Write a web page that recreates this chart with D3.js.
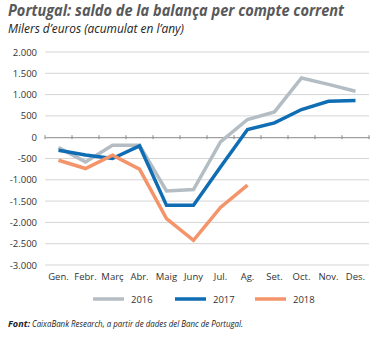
<!DOCTYPE html>
<html><head><meta charset="utf-8">
<script src="https://cdn.jsdelivr.net/npm/d3@7"></script>
<style>body{margin:0;background:#fff}svg{display:block}</style>
</head><body>
<svg id="c" width="380" height="338"></svg>
<script>
const months = ["Gen.","Febr.","Març","Abr.","Maig","Juny","Jul.","Ag.","Set.","Oct.","Nov.","Des."];
const yTicks = [2000,1500,1000,500,0,-500,-1000,-1500,-2000,-2500,-3000];
const s2016 = [-240,-580,-190,-190,-1260,-1230,-110,415,595,1390,1240,1080];
const s2017 = [-305,-420,-500,-205,-1600,-1600,-700,180,335,650,845,860];
const s2018 = [-540,-735,-420,-750,-1910,-2420,-1650,-1125];
const seriesNames = ["2016","2017","2018"];
const colors = ["#b4bdc3","#0f6db4","#f4946a"];

const svg = d3.select("#c");
const x = d3.scaleBand().domain(months).range([45,369]);
const y = d3.scaleLinear().domain([-3000,2000]).range([265,52]);
const fmt = v => d3.format(",")(v).replace(/,/g,".").replace("−","-");

svg.append("text").attr("x",8).attr("y",16).attr("font-family","Open Sans, sans-serif")
  .attr("font-weight","bold").attr("font-style","italic").attr("font-size",15.5).attr("fill","#58595b")
  .attr("textLength",336).attr("lengthAdjust","spacingAndGlyphs")
  .text("Portugal: saldo de la balança per compte corrent");
svg.append("text").attr("x",8).attr("y",33).attr("font-family","Open Sans, sans-serif")
  .attr("font-style","italic").attr("font-size",12).attr("fill","#222")
  .attr("textLength",176).attr("lengthAdjust","spacingAndGlyphs")
  .text("Milers d’euros (acumulat en l’any)");

// gridlines
svg.append("g").selectAll("line").data(yTicks.filter(d=>d!==0)).join("line")
  .attr("x1",45).attr("x2",369).attr("y1",d=>y(d)).attr("y2",d=>y(d))
  .attr("stroke","#d5d5d5").attr("stroke-width",1);

// y labels
svg.append("g").selectAll("text").data(yTicks).join("text")
  .attr("x",37).attr("y",d=>y(d)+3.5).attr("text-anchor","end")
  .attr("font-family","Open Sans, sans-serif").attr("font-size",9.5).attr("fill","#333")
  .text(fmt);

// zero axis
const ax = svg.append("g").attr("transform",`translate(0,${y(0)})`)
  .call(d3.axisBottom(x).tickSize(0).tickFormat(""));
ax.select(".domain").attr("stroke","#888").attr("stroke-width",1);
svg.append("g").selectAll("line").data(d3.range(13)).join("line")
  .attr("x1",d=>45+d*x.bandwidth()).attr("x2",d=>45+d*x.bandwidth())
  .attr("y1",y(0)-2).attr("y2",y(0)+2).attr("stroke","#888");

// x labels
svg.append("g").selectAll("text").data(months).join("text")
  .attr("x",d=>x(d)+x.bandwidth()/2).attr("y",280).attr("text-anchor","middle")
  .attr("font-family","Open Sans, sans-serif").attr("font-size",9.5).attr("fill","#333")
  .text(d=>d);

const line = d3.line().x((d,i)=>x(months[i])+x.bandwidth()/2).y(d=>y(d));
[s2016,s2017,s2018].forEach((s,i)=>{
  svg.append("path").datum(s).attr("d",line).attr("fill","none")
    .attr("stroke",colors[i]).attr("stroke-width",3.5).attr("stroke-linejoin","miter");
});

// legend
const lx = [93,175,255];
seriesNames.forEach((n,i)=>{
  svg.append("line").attr("x1",lx[i]).attr("x2",lx[i]+31).attr("y1",299).attr("y2",299)
    .attr("stroke",colors[i]).attr("stroke-width",3.5);
  svg.append("text").attr("x",lx[i]+38).attr("y",302.5).attr("font-family","Open Sans, sans-serif")
    .attr("font-size",9.5).attr("fill","#333").text(n);
});

svg.append("text").attr("x",8).attr("y",327).attr("font-family","Open Sans, sans-serif")
  .attr("font-style","italic").attr("font-weight","bold").attr("font-size",9).attr("fill","#222")
  .attr("textLength",22).attr("lengthAdjust","spacingAndGlyphs").text("Font:");
svg.append("text").attr("x",32).attr("y",327).attr("font-family","Open Sans, sans-serif")
  .attr("font-style","italic").attr("font-size",9).attr("fill","#222")
  .attr("textLength",211).attr("lengthAdjust","spacingAndGlyphs")
  .text("CaixaBank Research, a partir de dades del Banc de Portugal.");
</script>
</body></html>
